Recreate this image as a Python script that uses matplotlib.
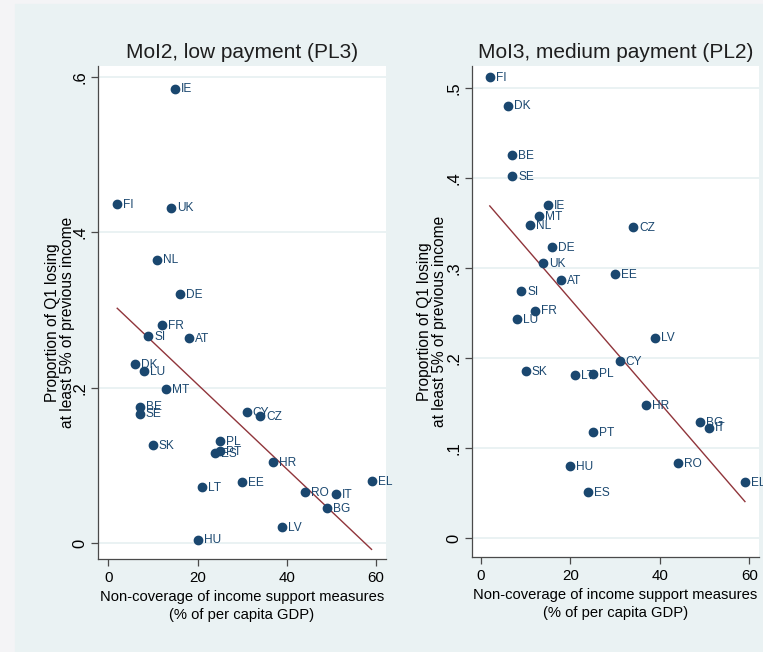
import numpy as np
import matplotlib.pyplot as plt
from matplotlib.patches import Rectangle

# country codes and non-coverage of income support (% of per capita GDP)
countries = ["IE", "FI", "UK", "NL", "DE", "FR", "SI", "AT", "DK", "LU",
             "MT", "BE", "SE", "CY", "CZ", "SK", "PL", "PT", "ES", "HR",
             "EE", "LT", "EL", "RO", "IT", "BG", "LV", "HU"]
noncoverage = [15, 2, 14, 11, 16, 12, 9, 18, 6, 8,
               13, 7, 7, 31, 34, 10, 25, 25, 24, 37,
               30, 21, 59, 44, 51, 49, 39, 20]

# proportion of Q1 losing at least 5% of previous income
share_pl3 = [0.585, 0.436, 0.432, 0.365, 0.321, 0.281, 0.267, 0.264, 0.231, 0.222,
             0.198, 0.176, 0.167, 0.169, 0.164, 0.127, 0.132, 0.119, 0.116, 0.105,
             0.079, 0.072, 0.080, 0.066, 0.063, 0.045, 0.021, 0.005]
share_pl2 = [0.370, 0.513, 0.306, 0.348, 0.324, 0.253, 0.275, 0.287, 0.481, 0.244,
             0.358, 0.426, 0.403, 0.197, 0.346, 0.186, 0.183, 0.118, 0.051, 0.148,
             0.294, 0.181, 0.062, 0.083, 0.123, 0.129, 0.223, 0.080]

xticks = [0, 20, 40, 60]
yticks_pl3 = [0, 0.2, 0.4, 0.6]
yticks_pl2 = [0, 0.1, 0.2, 0.3, 0.4, 0.5]

NAVY, MAROON = "#1a476f", "#90353b"
BG, OUTER, AXC = "#eaf2f3", "#f4f4f6", "#4a4a4a"
FONT = ["Liberation Sans", "DejaVu Sans"]

W, H = 763, 652
fig = plt.figure(figsize=(W / 100, H / 100), dpi=100, facecolor=OUTER)
fig.add_artist(Rectangle((15 / W, 0), 1, (H - 4) / H, transform=fig.transFigure,
                         color=BG, zorder=0))


def px_axes(left, top, right, bottom):
    return fig.add_axes([left / W, 1 - bottom / H, (right - left) / W, (bottom - top) / H])


def stata_num(v):
    s = f"{v:.1f}"
    return "0" if v == 0 else s.lstrip("0")


def panel(ax, share, title, xlim, ylim, yticks, ylab_x):
    x = np.array(noncoverage, dtype=float)
    y = np.array(share)
    ax.set_facecolor("white")
    ax.set_xlim(*xlim)
    ax.set_ylim(*ylim)
    for s in ("top", "right"):
        ax.spines[s].set_visible(False)
    for s in ("left", "bottom"):
        ax.spines[s].set_color(AXC)
        ax.spines[s].set_linewidth(0.9)
    ax.set_yticks(yticks)
    ax.yaxis.grid(True, color=BG, lw=1.4)
    ax.set_axisbelow(True)
    ax.set_xticks(xticks)
    ax.set_xticklabels([str(t) for t in xticks], family=FONT, fontsize=10.8)
    ax.set_yticklabels([stata_num(t) for t in yticks], family=FONT, fontsize=11.9,
                       rotation=90, va="center")
    ax.tick_params(color=AXC, length=5, width=0.9)
    ax.tick_params(axis="x", pad=4)
    ax.tick_params(axis="y", pad=2.5)

    # linear fit over the observed range
    b, a = np.polyfit(x, y, 1)
    xs = np.array([x.min(), x.max()])
    ax.plot(xs, a + b * xs, color=MAROON, lw=1.0, zorder=2)

    ax.plot(x, y, "o", color=NAVY, ms=6, mec=NAVY, zorder=3)
    for c, xi, yi in zip(countries, x, y):
        ax.annotate(c, (xi, yi), xytext=(4.3, -0.6), textcoords="offset points",
                    va="center", ha="left", color=NAVY, family=FONT,
                    fontsize=8.6, zorder=4)

    ax.set_title(title, family=FONT, fontsize=15, color="#1e1e1e", pad=6)
    ax.set_xlabel("Non-coverage of income support measures\n(% of per capita GDP)",
                  family=FONT, fontsize=10.6, linespacing=1.3, labelpad=3.5)
    ax.set_ylabel("Proportion of Q1 losing\nat least 5% of previous income",
                  family=FONT, fontsize=11.2, linespacing=1.0)
    ax.yaxis.set_label_coords(ylab_x, 0.48)


ax1 = px_axes(98, 66, 386, 559)
panel(ax1, share_pl3, "MoI2, low payment (PL3)", (-2.31, 62.24), (-0.020, 0.614),
      yticks_pl3, -0.080)

ax2 = px_axes(472, 66, 759, 557)
panel(ax2, share_pl2, "MoI3, medium payment (PL2)", (-1.97, 62.14), (-0.021, 0.525),
      yticks_pl2, -0.086)

fig.savefig("out.png", dpi=100, facecolor=OUTER)
